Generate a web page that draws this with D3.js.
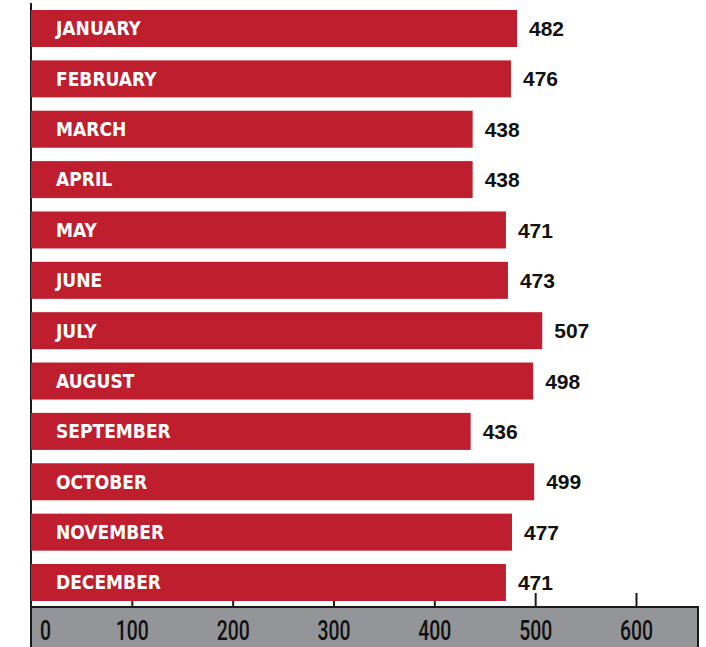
<!DOCTYPE html>
<html>
<head>
<meta charset="utf-8">
<script src="https://cdn.jsdelivr.net/npm/d3@7"></script>
<style>
  html, body { margin: 0; padding: 0; background: #fff; }
  svg { display: block; }
</style>
</head>
<body>
<svg id="chart" width="706" height="647"></svg>
<script>
const months = ["JANUARY","FEBRUARY","MARCH","APRIL","MAY","JUNE","JULY","AUGUST","SEPTEMBER","OCTOBER","NOVEMBER","DECEMBER"];
const values = [482, 476, 438, 438, 471, 473, 507, 498, 436, 499, 477, 471];
const tickValues = [0, 100, 200, 300, 400, 500, 600];

const svg = d3.select("#chart");
const red = "#be1e2d";
const gray = "#939598";

const x = d3.scaleLinear().domain([0, 600]).range([31, 636]);
const y = d3.scaleBand().domain(months).range([10, 601]).paddingInner(0.265).paddingOuter(0);

// axis band
const axisTop = 607;
svg.append("rect")
  .attr("x", 31).attr("y", axisTop)
  .attr("width", 698 - 31).attr("height", 647 - axisTop + 2)
  .attr("fill", gray).attr("stroke", "#1a1a1a").attr("stroke-width", 2);

// ticks via d3 axis
const axis = d3.axisBottom(x).tickValues(tickValues).tickSizeInner(-14).tickSizeOuter(0).tickFormat(d3.format("d"));
const gAxis = svg.append("g").attr("transform", `translate(0,${axisTop})`).call(axis);
gAxis.select(".domain").remove();
gAxis.selectAll(".tick line").attr("stroke", "#1a1a1a").attr("stroke-width", 2);
gAxis.selectAll(".tick").filter(d => d === 0).select("line").remove();
gAxis.selectAll(".tick text")
  .attr("y", 33).attr("dy", null)
  .attr("fill", "#111")
  .style("font-family", "Roboto, 'DejaVu Sans Condensed', sans-serif")
  .style("font-weight", "500")
  .style("font-size", "28px")
  .attr("textLength", d => String(d).length * 11)
  .attr("lengthAdjust", "spacingAndGlyphs")
  .attr("x", d => d === 0 ? 14 : 0);

// left axis line
svg.append("line")
  .attr("x1", 31).attr("x2", 31).attr("y1", 3).attr("y2", axisTop)
  .attr("stroke", "#1a1a1a").attr("stroke-width", 2);

// bars
svg.append("g").selectAll("rect").data(months).join("rect")
  .attr("x", x(0))
  .attr("y", d => y(d))
  .attr("width", (d, i) => x(values[i]) - x(0))
  .attr("height", y.bandwidth())
  .attr("fill", red);

// month labels
svg.append("g").selectAll("text").data(months).join("text")
  .attr("x", 56)
  .attr("y", d => y(d) + y.bandwidth() / 2)
  .attr("dy", "0.36em")
  .attr("fill", "#fff")
  .style("font-family", "'DejaVu Sans Condensed', sans-serif")
  .style("font-weight", "bold")
  .style("font-size", "19px")
  .text(d => d);

// value labels
svg.append("g").selectAll("text").data(months).join("text")
  .attr("x", (d, i) => x(values[i]) + 12)
  .attr("y", d => y(d) + y.bandwidth() / 2)
  .attr("dy", "0.36em")
  .attr("fill", "#111")
  .style("font-family", "'Liberation Sans', Arial, sans-serif")
  .style("font-weight", "bold")
  .style("font-size", "21px")
  .text((d, i) => values[i]);
</script>
</body>
</html>
